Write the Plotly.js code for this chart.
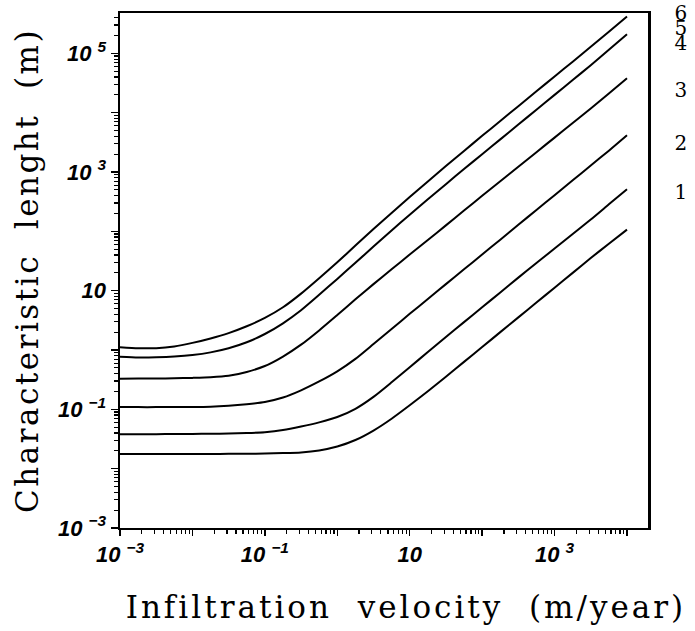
<!DOCTYPE html>
<html>
<head>
<meta charset="utf-8">
<script src="https://cdn.plot.ly/plotly-3.0.1.min.js"></script>
<style>
  html, body { margin: 0; padding: 0; background: #fff; }
  #chart { width: 695px; height: 631px; }
  #chart .ytitle { letter-spacing: 2.5px; }
  #chart .annotation-text { letter-spacing: 3px; }
</style>
</head>
<body>
<div id="chart"></div>
<script>
// Infiltration velocity (m/year)
const velocity = [0.001, 0.00178, 0.00316, 0.00562, 0.01, 0.0178, 0.0316, 0.0562, 0.1, 0.178, 0.316, 0.562,
                  1, 1.78, 3.16, 5.62, 10, 17.8, 31.6, 56.2, 100, 178, 316, 562, 1000, 1780, 3160, 5620, 10000];

// Characteristic length (m) for curves 1..6
const length1 = [0.0176, 0.0176, 0.0176, 0.0177, 0.0177, 0.0177, 0.0178, 0.0178, 0.0180, 0.0183, 0.0188, 0.0203,
                 0.0236, 0.0304, 0.0439, 0.0695, 0.117, 0.202, 0.355, 0.631, 1.12, 2.00, 3.55, 6.31, 11.2, 19.95, 35.5, 61.7, 107];
const length2 = [0.0382, 0.0382, 0.0382, 0.0383, 0.0385, 0.0387, 0.0391, 0.0398, 0.0412, 0.0447, 0.0513, 0.0603,
                 0.0741, 0.102, 0.162, 0.285, 0.513, 0.923, 1.66, 2.95, 5.25, 9.33, 16.6, 29.2, 51.3, 90.2, 158, 285, 513];
const length3 = [0.109, 0.109, 0.109, 0.110, 0.110, 0.111, 0.115, 0.122, 0.133, 0.158, 0.209, 0.295,
                 0.437, 0.708, 1.26, 2.26, 4.07, 7.24, 12.9, 22.9, 40.7, 72.4, 129, 229, 407, 724, 1288, 2291, 4169];
const length4 = [0.329, 0.330, 0.331, 0.334, 0.339, 0.347, 0.367, 0.427, 0.537, 0.776, 1.23, 2.14,
                 3.89, 7.16, 12.9, 22.9, 40.7, 71.6, 126, 224, 398, 700, 1230, 2160, 3800, 6680, 11750, 21130, 38020];
const length5 = [0.771, 0.750, 0.755, 0.776, 0.822, 0.912, 1.07, 1.35, 1.86, 2.82, 4.68, 8.51,
                 15.8, 29.5, 55.6, 103.5, 190.5, 346.7, 623.7, 1122, 1995, 3548, 6310, 11220, 19950, 35480, 63100, 114800, 208900];
const length6 = [1.114, 1.072, 1.072, 1.148, 1.318, 1.567, 1.928, 2.512, 3.467, 5.248, 8.913, 16.22,
                 30.2, 57.5, 109.6, 204.2, 380.2, 691.8, 1259, 2265, 4074, 7244, 12880, 22910, 40740, 72440, 128800, 231700, 416900];

const curveNames = ['1', '2', '3', '4', '5', '6'];
const curveValues = [length1, length2, length3, length4, length5, length6];

const xTickVals = [1e-3, 1e-2, 1e-1, 1, 10, 100, 1e3, 1e4];
const xTickText = ['10 <sup>−3</sup>', '', '10 <sup>−1</sup>', '', '10', '', '10 <sup>3</sup>', ''];
const yTickVals = [1e-3, 1e-2, 1e-1, 1, 10, 100, 1e3, 1e4, 1e5];
const yTickText = ['10 <sup>−3</sup>', '', '10 <sup>−1</sup>', '', '10', '', '10 <sup>3</sup>', '', '10 <sup>5</sup>'];

// curve label placement (paper coordinates)
const labelY = [0.652, 0.748, 0.850, 0.942, 0.971, 1.0];

function minorTicks(lo, hi) {
  const out = [];
  for (let d = lo; d <= hi; d++) {
    for (let k = 2; k <= 9; k++) out.push(k * Math.pow(10, d));
  }
  return out;
}

const traces = curveValues.map((vals, i) => ({
  x: velocity,
  y: vals,
  type: 'scatter',
  mode: 'lines',
  name: curveNames[i],
  line: { color: '#000', width: 2, shape: 'spline', smoothing: 0.6 },
  hoverinfo: 'x+y+name'
}));

const tickFont = { family: 'Liberation Sans, Arial, sans-serif', size: 22, color: '#000', weight: 'bold', style: 'italic' };
const serif = 'DejaVu Serif, Liberation Serif, serif';

const annotations = curveNames.map((n, i) => ({
  text: n,
  xref: 'paper', yref: 'paper',
  x: 1.066, y: labelY[i],
  xanchor: 'center', yanchor: 'middle',
  showarrow: false,
  font: { family: serif, size: 20, color: '#000' }
}));
annotations.push({
  text: 'Infiltration  velocity  (m/year)',
  xref: 'paper', yref: 'paper',
  x: (406 - 120) / 528, y: -0.153,
  xanchor: 'center', yanchor: 'middle',
  showarrow: false,
  font: { family: serif, size: 31, color: '#000' }
});

const layout = {
  width: 695,
  height: 631,
  margin: { l: 120, r: 47, t: 13, b: 103 },
  paper_bgcolor: '#fff',
  plot_bgcolor: '#fff',
  showlegend: false,
  xaxis: {
    type: 'log',
    range: [-3, 4.29],
    showgrid: false,
    zeroline: false,
    showline: true,
    linecolor: '#000',
    linewidth: 2,
    mirror: true,
    ticks: 'outside',
    ticklen: 6,
    tickwidth: 1.5,
    tickcolor: '#000',
    tickmode: 'array',
    tickvals: xTickVals,
    ticktext: xTickText,
    tickfont: tickFont,
    minor: { tickmode: 'array', tickvals: minorTicks(-3, 3), ticks: 'outside', ticklen: 4, tickwidth: 1.2, tickcolor: '#000', showgrid: false }
  },
  yaxis: {
    type: 'log',
    range: [-3, 5.68],
    showgrid: false,
    zeroline: false,
    showline: true,
    linecolor: '#000',
    linewidth: 2.5,
    mirror: true,
    ticks: 'outside',
    ticklen: 7,
    tickwidth: 1.5,
    tickcolor: '#000',
    tickmode: 'array',
    tickvals: yTickVals,
    ticktext: yTickText,
    tickfont: tickFont,
    minor: { tickmode: 'array', tickvals: minorTicks(-3, 5), ticks: 'outside', ticklen: 4, tickwidth: 1.2, tickcolor: '#000', showgrid: false },
    title: { text: 'Characteristic  lenght  (m)', font: { family: serif, size: 31, color: '#000' }, standoff: 10 }
  },
  annotations: annotations
};

Plotly.newPlot('chart', traces, layout, { displayModeBar: false, staticPlot: true });
</script>
</body>
</html>
